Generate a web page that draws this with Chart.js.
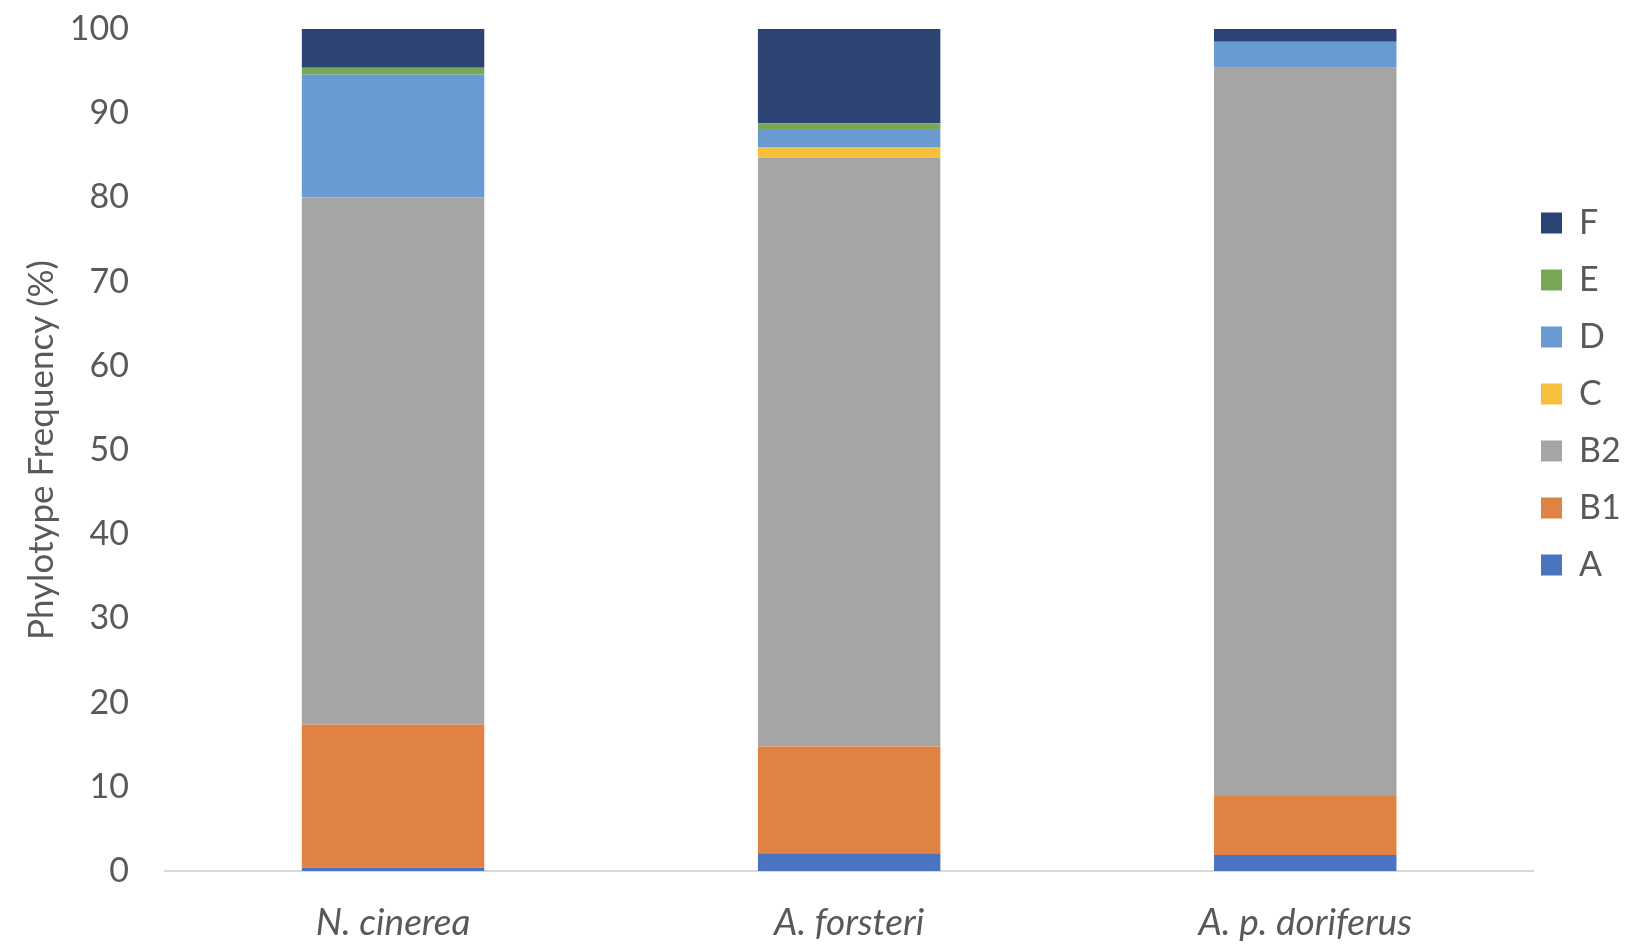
<!DOCTYPE html>
<html>
<head>
<meta charset="utf-8">
<script src="https://cdn.jsdelivr.net/npm/chart.js@4.4.1/dist/chart.umd.min.js"></script>
<style>
  body { margin: 0; background: #fff; }
  #wrap { width: 1650px; height: 946px; }
</style>
</head>
<body>
<div id="wrap"><canvas id="phyloChart"></canvas></div>
<script>
// hosts (x categories)
const hosts = ["N. cinerea", "A. forsteri", "A. p. doriferus"];

// phylotype frequencies (%)
const phyloA  = [0.4, 2.1, 1.9];
const phyloB1 = [17.0, 12.7, 7.0];
const phyloB2 = [62.6, 69.9, 86.5];
const phyloC  = [0, 1.3, 0];
const phyloD  = [14.6, 2.0, 3.1];
const phyloE  = [0.8, 0.8, 0];
const phyloF  = [4.6, 11.2, 1.5];

const yTicks = [0, 10, 20, 30, 40, 50, 60, 70, 80, 90, 100];

const FONT = "Lato";
const TEXT = "#595959";

// legend sits to the right of the plot, top aligned like the original
const legendNudge = {
  id: "legendNudge",
  afterLayout(chart) {
    const lg = chart.legend;
    const w = lg.right - lg.left;
    lg.left = 1518;
    lg.right = lg.left + w;
    lg.top = 183;
  }
};

const ctx = document.getElementById("phyloChart");
const chart = new Chart(ctx, {
  type: "bar",
  data: {
    labels: hosts,
    datasets: [
      { label: "A",  data: phyloA,  backgroundColor: "#4a73c0" },
      { label: "B1", data: phyloB1, backgroundColor: "#e08243" },
      { label: "B2", data: phyloB2, backgroundColor: "#a5a5a5" },
      { label: "C",  data: phyloC,  backgroundColor: "#f8bf3f" },
      { label: "D",  data: phyloD,  backgroundColor: "#699bd2" },
      { label: "E",  data: phyloE,  backgroundColor: "#77a854" },
      { label: "F",  data: phyloF,  backgroundColor: "#2c4373" }
    ]
  },
  options: {
    responsive: true,
    maintainAspectRatio: false,
    animation: false,
    devicePixelRatio: 1,
    datasets: {
      bar: { categoryPercentage: 1, barPercentage: 0.4, borderWidth: 0 }
    },
    layout: { padding: { top: 29, right: 4, bottom: 0, left: 0 } },
    scales: {
      x: {
        stacked: true,
        grid: { display: false, drawTicks: false },
        border: { display: true, color: "#d9d9d9", width: 2 },
        ticks: {
          color: TEXT,
          padding: 30,
          font: { family: FONT, size: 37, style: "italic" }
        },
        afterFit(scale) { scale.height = 75; }
      },
      y: {
        stacked: true,
        min: 0,
        max: 100,
        afterBuildTicks(scale) {
          scale.ticks = yTicks.map(v => ({ value: v }));
        },
        grid: { display: false, drawTicks: false },
        border: { display: false },
        ticks: {
          color: TEXT,
          padding: 36,
          font: { family: FONT, size: 34 }
        },
        title: {
          display: true,
          text: "Phylotype Frequency (%)",
          color: TEXT,
          padding: { top: 21, bottom: 0 },
          font: { family: FONT, size: 35 }
        },
        afterFit(scale) {
          scale.width = 165;
          scale.paddingTop = 0;
          scale.paddingBottom = 0;
        }
      }
    },
    plugins: {
      tooltip: { enabled: false },
      legend: {
        position: "right",
        align: "start",
        reverse: true,
        labels: {
          color: TEXT,
          boxWidth: 21,
          boxHeight: 21,
          padding: 23,
          font: { family: FONT, size: 34 }
        }
      }
    }
  },
  plugins: [legendNudge]
});
</script>
</body>
</html>
